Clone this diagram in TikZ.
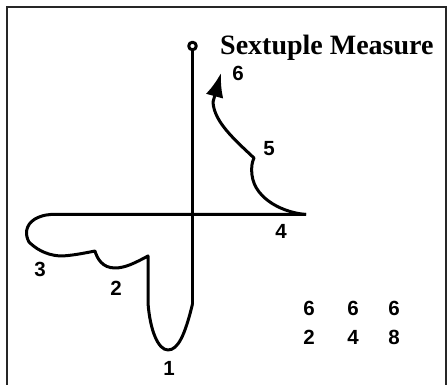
\documentclass[tikz,border=0pt]{standalone}
\usepackage{fontspec}
\setmainfont{Liberation Serif}
\newfontfamily\numfont{Liberation Sans}
\usetikzlibrary{arrows.meta}

\begin{document}
\begin{tikzpicture}[
x=1pt, y=-1pt,
beat/.style={
font=\numfont\bfseries\fontsize{20.5}{20.5}\selectfont,
inner sep=0pt
},
stroke/.style={line width=3pt, line join=round}
]

\useasboundingbox (0,0) rectangle (448,385);
\draw[line width=2pt, black!85] (7,7) rectangle (446,400);

\node[font=\bfseries\fontsize{28}{28}\selectfont, inner sep=0pt, anchor=base west]
(T) at (220,55) {Sextuple Measure};

\node[beat] (B1) at (169,368) {1};
\node[beat] (B2) at (116,288) {2};
\node[beat] (B3) at (40,269) {3};
\node[beat] (B4) at (281,231) {4};
\node[beat] (B5) at (269,149) {5};
\node[beat] (B6) at (238,73) {6};

\node[beat] (F1) at (309,308) {6};
\node[beat] (F2) at (353,308) {6};
\node[beat] (F3) at (394,308) {6};
\node[beat] (D1) at (309,337) {2};
\node[beat] (D2) at (353,337) {4};
\node[beat] (D3) at (394,337) {8};

% axes
\draw[stroke] (192.5,46) circle (3.8);
\draw[stroke] (192.5,50) -- (192.5,304);

% beats 1 to 4
\draw[stroke] (192.5,304) .. controls (185,335) and (178,350) .. (168,350)
.. controls (158,350) and (150,330) .. (148,303) -- (148,256)
.. controls (135,263) and (125,268) .. (115,268)
.. controls (102,268) and (97,258) .. (95,251)
.. controls (85,253) and (70,256) .. (60,256)
.. controls (45,255) and (35,248) .. (29,242)
.. controls (25,235) and (25,225) .. (35,219)
.. controls (42,215) and (50,214) .. (56,214.5) -- (306,214.5);

% beats 5 and 6
\draw[stroke, -{Latex[length=24pt,width=18pt]}] (306,214.5)
.. controls (285,213) and (255,200) .. (252,175)
.. controls (251,168) and (252,162) .. (254,158)
.. controls (235,140) and (214,122) .. (213,102) -- (221,73);

\end{tikzpicture}
\end{document}
